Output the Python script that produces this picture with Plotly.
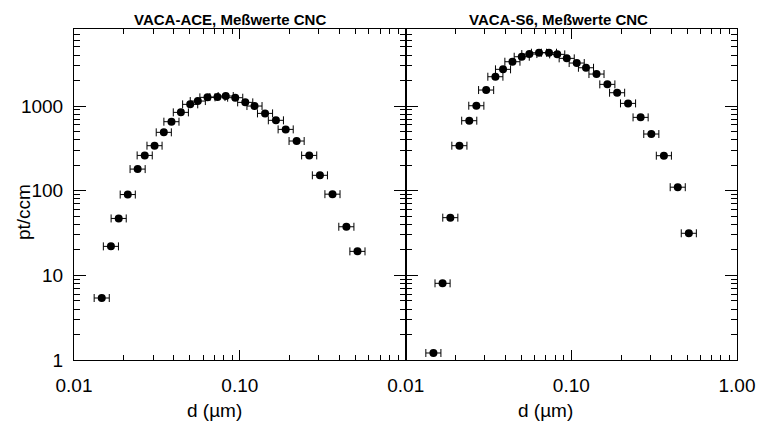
import plotly.graph_objects as go

# particle diameter bins (µm), same for both instruments
d_um = [0.0147, 0.0167, 0.0186, 0.0211, 0.0242, 0.0267, 0.0306, 0.0348, 0.0387,
        0.0441, 0.0502, 0.0558, 0.0638, 0.0733, 0.0822, 0.0938, 0.1078, 0.1226,
        0.1419, 0.165, 0.189, 0.220, 0.262, 0.304, 0.362, 0.439, 0.512]

ace_counts = [5.4, 22, 47, 90, 180, 261, 340, 489, 653, 842, 1047, 1145, 1266, 1277,
              1313, 1254, 1105, 1000, 819, 678, 530, 386, 261, 152, 91, 37.5, 19.2]

s6_counts = [1.21, 8.05, 48, 340, 671, 1008, 1545, 2220, 2713, 3337, 3822, 4111, 4263,
             4263, 4077, 3657, 3220, 2833, 2387, 1803, 1436, 1075, 735, 467, 259, 110, 31.4]

titles = ["VACA-ACE, Meßwerte CNC", "VACA-S6, Meßwerte CNC"]

y_major = [1, 10, 100, 1000]
y_labels = ["1", "10", "100", "1000"]
x_major = [0.01, 0.1, 1]
x_labels = ["0.01", "0.10", "1.00"]

y_minor = [m * 10 ** e for e in range(0, 4) for m in range(2, 10)]
x_minor = [m * 10 ** e for e in (-2, -1) for m in range(2, 10)]

W, H = 758, 429
L, R, T, B = 74, 737, 29, 360
mid = 405.7
split = (mid - L) / (R - L)

font = "Liberation Sans, Arial, sans-serif"

fig = go.Figure()
for i, ys in enumerate([ace_counts, s6_counts]):
    fig.add_trace(go.Scatter(
        x=d_um, y=ys, mode="markers",
        marker=dict(color="black", size=8),
        error_x=dict(type="percent", value=11, valueminus=10, symmetric=False,
                     color="black", thickness=1, width=4),
        xaxis="x" if i == 0 else "x2", yaxis="y" if i == 0 else "y2",
        showlegend=False,
    ))

xcommon = dict(type="log", range=[-2, 0], showgrid=False, zeroline=False, automargin=False,
               showline=True, linecolor="black", linewidth=1, mirror="allticks",
               ticks="inside", ticklen=10, tickcolor="black", tickmode="array",
               tickvals=x_major, ticktext=x_labels, ticklabelstandoff=8,
               tickfont=dict(family=font, size=19, color="black"),
               minor=dict(ticks="inside", ticklen=5, tickcolor="black",
                          tickmode="array", tickvals=x_minor, showgrid=False))
ycommon = dict(type="log", range=[0, 3.91], showgrid=False, zeroline=False, automargin=False,
               showline=True, linecolor="black", linewidth=1, mirror="allticks",
               ticks="inside", ticklen=12, tickcolor="black", tickmode="array",
               tickvals=y_major, ticktext=y_labels, ticklabelstandoff=6,
               tickfont=dict(family=font, size=19, color="black"),
               minor=dict(ticks="inside", ticklen=6, tickcolor="black",
                          tickmode="array", tickvals=y_minor, showgrid=False))

fig.update_layout(
    width=W, height=H,
    margin=dict(l=L, r=W - R, t=T, b=H - B),
    paper_bgcolor="white", plot_bgcolor="white",
    xaxis=dict(xcommon, domain=[0, split], anchor="y",
               tickvals=x_major[:2], ticktext=x_labels[:2]),
    xaxis2=dict(xcommon, domain=[split, 1], anchor="y2"),
    yaxis=dict(ycommon, anchor="x"),
    yaxis2=dict(ycommon, anchor="x2", showticklabels=False),
)

def px(xp):
    return (xp - L) / (R - L)

def py(yp):
    return (B - yp) / (B - T)

def label(text, cx, cy, size, angle=0):
    fig.add_annotation(text=text, x=px(cx), y=py(cy), xref="paper", yref="paper",
                       xanchor="center", yanchor="middle", textangle=angle,
                       showarrow=False, font=dict(family=font, size=size, color="black"))

for cx, t in zip([230, 558], titles):
    label("<b>%s</b>" % t, cx, 20, 15)

for cx in [214, 545]:
    label("d (µm)", cx, 410, 19)

label("pt/ccm", 24, 212, 19, -90)

# drop the default page margin so the figure sits at the window corner
fig.write_html("out.html", config={"displayModeBar": False},
               post_script="document.body.style.margin='0';")
